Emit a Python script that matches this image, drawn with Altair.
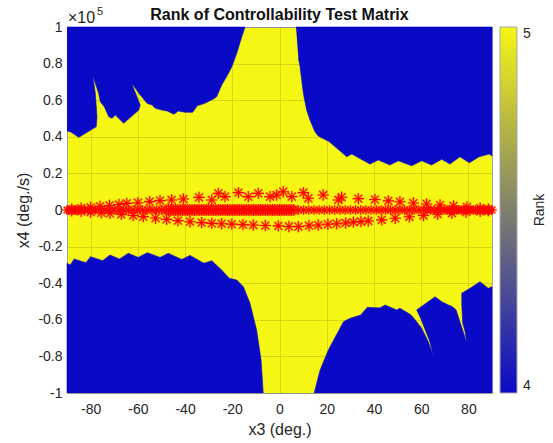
import altair as alt
import pandas as pd

FONT = "Liberation Sans"
BLUE = "#0a0ac6"
YELLOW = "#f6f614"
RED = "#ff0000"
HALO = "#ff8a00"
ASTERISK = "M-1,0L1,0M0,-1L0,1M-0.7,-0.7L0.7,0.7M-0.7,0.7L0.7,-0.7"

x_ticks = [-80, -60, -40, -20, 0, 20, 40, 60, 80]
y_ticks = [-1.0, -0.8, -0.6, -0.4, -0.2, 0.0, 0.2, 0.4, 0.6, 0.8, 1.0]

# ---- rank-4 (blue) regions: boundary vertices, x3 in deg, x4 in 1e5 deg/s ----
tl_x = [-90, -14.6, -16.4, -18.1, -20.2, -22.4, -24.5, -26.6, -28.0, -31.6, -34.8, -36.8,
        -40.0, -42.9, -44.7, -47.6, -49.8, -52.6, -54.0, -56.1, -59.6, -62.5, -65.3, -61.8,
        -59.0, -59.6, -66.0, -69.5, -70.9, -72.3, -74.2, -75.9, -76.6, -79.1, -78.0, -77.3,
        -77.6, -85.0, -88.6, -90]
tl_y = [1.0, 1.0, 0.929, 0.856, 0.783, 0.728, 0.683, 0.619, 0.607, 0.583, 0.570, 0.534,
        0.534, 0.541, 0.523, 0.541, 0.546, 0.556, 0.574, 0.583, 0.638, 0.692, 0.802, 0.665,
        0.574, 0.546, 0.474, 0.519, 0.501, 0.510, 0.564, 0.592, 0.638, 0.734, 0.638, 0.510,
        0.455, 0.397, 0.428, 0.432]

tr_x = [7.0, 90, 90, 88.8, 84.6, 80.4, 76.4, 72.2, 68.7, 64.4, 60.2, 56.0, 50.3, 46.8,
        41.8, 38.3, 30.6, 28.5, 21.1, 16.4, 15.0, 12.9, 11.5, 10.1, 8.7, 8.0]
tr_y = [1.0, 1.0, 0.295, 0.306, 0.291, 0.258, 0.291, 0.251, 0.277, 0.246, 0.269, 0.242,
        0.269, 0.246, 0.273, 0.251, 0.306, 0.291, 0.373, 0.404, 0.428, 0.492, 0.546, 0.638,
        0.783, 0.829]

bl_x = [-90, -90, -88.6, -87.0, -82.0, -80.0, -74.9, -71.8, -67.8, -64.0, -59.8, -56.0,
        -50.6, -47.1, -41.4, -37.9, -32.0, -28.7, -24.5, -21.3, -18.1, -15.3, -12.5, -9.7,
        -7.8, -6.9]
bl_y = [-1.0, -0.291, -0.301, -0.268, -0.288, -0.255, -0.277, -0.246, -0.268, -0.237,
        -0.259, -0.233, -0.259, -0.237, -0.270, -0.248, -0.291, -0.277, -0.328, -0.373,
        -0.383, -0.419, -0.510, -0.656, -0.820, -1.0]

br_x = [14.7, 17.2, 20.7, 27.1, 29.9, 34.4, 37.2, 42.6, 44.7, 49.6, 51.0, 55.3, 56.0,
        58.1, 60.2, 63.0, 65.1, 63.7, 60.9, 59.8, 58.1, 65.9, 68.7, 71.5, 73.2, 74.8, 76.4,
        77.8, 79.3, 78.6, 77.6, 77.2, 77.2, 80.7, 84.9, 88.4, 90, 90]
br_y = [-1.0, -0.874, -0.765, -0.610, -0.592, -0.574, -0.532, -0.535, -0.519, -0.546,
        -0.537, -0.570, -0.578, -0.610, -0.646, -0.720, -0.796, -0.720, -0.628, -0.592,
        -0.546, -0.474, -0.501, -0.519, -0.528, -0.546, -0.610, -0.665, -0.728, -0.665,
        -0.619, -0.519, -0.455, -0.428, -0.392, -0.428, -0.419, -1.0]

# ---- red asterisk markers ----
upper_x = [-88, -84, -80, -76, -72, -68, -64.7, -60, -55, -50.6, -45.7, -40.7, -34.1, -28.7,
           -25.9, -23.1, -17.4, -13.2, -9.0, -4.0, -1.2, 1.6, 5.2, 10.1, 12.2, 18.5, 24.9,
           26.3, 33.4, 40.4, 46.1, 51.0, 56.7, 62.3, 68.0, 73.7, 79.4, 85.0, 88.5]
upper_y = [0.004, 0.010, 0.015, 0.020, 0.025, 0.030, 0.036, 0.040, 0.046, 0.051, 0.055,
           0.060, 0.069, 0.055, 0.091, 0.073, 0.095, 0.073, 0.091, 0.073, 0.082, 0.100,
           0.073, 0.095, 0.064, 0.082, 0.055, 0.070, 0.062, 0.057, 0.050, 0.045, 0.038,
           0.033, 0.027, 0.022, 0.017, 0.010, 0.004]
lower_x = [-88, -84, -80, -75.5, -71.8, -67, -62, -57.7, -52.5, -47.8, -43, -37.9, -33,
           -28.7, -24.5, -20.2, -15.5, -11.1, -6, -0.5, 4, 8, 12.5, 16.4, 20.5, 24.2, 28,
           31.3, 34.5, 37.6, 43.3, 49, 55, 61, 67, 73, 79, 85, 88.5]
lower_y = [-0.004, -0.008, -0.012, -0.015, -0.018, -0.024, -0.030, -0.036, -0.044, -0.051,
           -0.058, -0.064, -0.069, -0.073, -0.075, -0.077, -0.080, -0.082, -0.085, -0.087,
           -0.090, -0.091, -0.086, -0.082, -0.078, -0.075, -0.071, -0.066, -0.063, -0.060,
           -0.054, -0.045, -0.037, -0.030, -0.023, -0.017, -0.012, -0.007, -0.003]
row_x = [-90, -89, -88, -87, -86, -85, -84, -82.5, -81, -79.5, -78, -76, -74, -72, -70,
         -68, -66, -64, -62, -60, -58, -56, -54, -52, -50, 8, 10.2, 12.4, 14.6, 16.8, 19,
         21.2, 23.4, 25.6, 27.8, 30, 32.2, 34.4, 36.6, 38.8, 41, 43, 45, 47, 49, 51, 53, 55,
         57, 59, 61, 62.5, 64, 65.5, 67, 68.5, 70, 71, 72, 73, 74, 75, 76, 77, 78, 79, 80,
         81, 82, 83, 84, 85, 86, 87, 88, 89, 90]
band_x = [-48, -47, -46, -45, -44, -43, -42, -41, -40, -39, -38, -37, -36, -35, -34, -33,
          -32, -31, -30, -29, -28, -27, -26, -25, -24, -23, -22, -21, -20, -19, -18, -17,
          -16, -15, -14, -13, -12, -11, -10, -9, -8, -7, -6, -5, -4, -3, -2, -1, 0, 1, 2,
          3, 4, 5, 6]
row_y = 0.0

# ---- build tables ----
rows = []
for name, xs, ys in [("tl", tl_x, tl_y), ("tr", tr_x, tr_y), ("bl", bl_x, bl_y), ("br", br_x, br_y)]:
    for i, (a, b) in enumerate(zip(xs, ys)):
        rows.append({"region": name, "order": i, "x": a, "y": b, "rank": 4})
poly_df = pd.DataFrame(rows)

arc_df = pd.DataFrame({"x": upper_x + lower_x, "y": upper_y + lower_y})
row_df = pd.DataFrame({"x": row_x, "y": [row_y] * len(row_x)})
band_df = pd.DataFrame({"x": band_x, "y": [row_y] * len(band_x)})

neg_expr = ("datum.value < -0.0001 ? '-' + format(-datum.value, '.1~f') : "
            "format(abs(datum.value), '.1~f')")

xscale = alt.Scale(domain=[-90, 90], nice=False, zero=False)
yscale = alt.Scale(domain=[-1, 1], nice=False, zero=False)
xaxis = alt.Axis(values=x_ticks, title="x3 (deg.)", labelExpr=neg_expr,
                 labelPadding=9, titlePadding=5, labelOverlap=False)
yaxis = alt.Axis(values=y_ticks, title="x4 (deg./s)", labelExpr=neg_expr,
                 labelPadding=5, titlePadding=6, labelOverlap=False)


def X():
    return alt.X("x:Q", scale=xscale, axis=xaxis)


def Y():
    return alt.Y("y:Q", scale=yscale, axis=yaxis)


poly = alt.Chart(poly_df).mark_line(fill=BLUE, strokeWidth=0.6).encode(
    x=X(), y=Y(),
    order="order:Q",
    detail="region:N",
    color=alt.Color("rank:Q",
                    scale=alt.Scale(domain=[4, 5], range=[BLUE, YELLOW], interpolate="rgb"),
                    legend=alt.Legend(title=None, orient="none", legendX=433, legendY=0,
                                      direction="vertical", gradientLength=366,
                                      gradientThickness=17, values=[4, 5], format="d",
                                      labelFontSize=14, labelColor="#262626", labelFont=FONT,
                                      labelOffset=6,
                                      gradientStrokeColor="#a6a6a6", gradientStrokeWidth=1,
                                      padding=0)),
)


def stars(df, size, color, width, opacity):
    return alt.Chart(df).mark_point(shape=ASTERISK, filled=False, color=color,
                                    strokeWidth=width, size=size,
                                    opacity=opacity).encode(x=X(), y=Y())


star_layers = []
for df, size in [(row_df, 95), (band_df, 150), (arc_df, 130)]:
    star_layers.append(stars(df, size, HALO, 2.6, 0.45))
for df, size in [(row_df, 95), (band_df, 150), (arc_df, 130)]:
    star_layers.append(stars(df, size, RED, 1.1, 1))


def note(text, xv, yv, **kw):
    df = pd.DataFrame({"t": [text], "x": [xv], "y": [yv]})
    return alt.Chart(df).mark_text(font=FONT, **kw).encode(x=X(), y=Y(), text="t:N")


title_txt = note("Rank of Controllability Test Matrix", 0, 1.0, align="center",
                 baseline="alphabetic", dy=-7, fontSize=16, fontWeight="bold",
                 color="#111111")
exp_base = note("×10", -90, 1.0, align="left", baseline="alphabetic", dx=1, dy=-4,
                fontSize=16, color="#262626")
exp_pow = note("5", -90, 1.0, align="left", baseline="alphabetic", dx=30, dy=-12,
               fontSize=11, color="#262626")
cbar_title = note("Rank", 90, 0.0, align="center", baseline="middle", angle=270, dy=48,
                  fontSize=14, color="#262626")

chart = alt.layer(
    poly, *star_layers, title_txt, exp_base, exp_pow, cbar_title
).properties(
    width=425, height=366,
    autosize=alt.AutoSizeParams(type="none"),
    padding={"left": 67, "top": 27, "right": 61, "bottom": 50},
    background="white",
).configure_axis(
    labelFont=FONT, titleFont=FONT, labelColor="#262626", titleColor="#262626",
    labelFontSize=14, titleFontSize=16, titleFontWeight="normal", labelOverlap=False,
    grid=True, gridColor="#262626", gridOpacity=0.15, domain=False, ticks=False, zindex=1,
).configure_view(fill=YELLOW, stroke="#a6a6a6", strokeWidth=1)

chart.save("out.html", embed_options={"renderer": "svg", "actions": False})
